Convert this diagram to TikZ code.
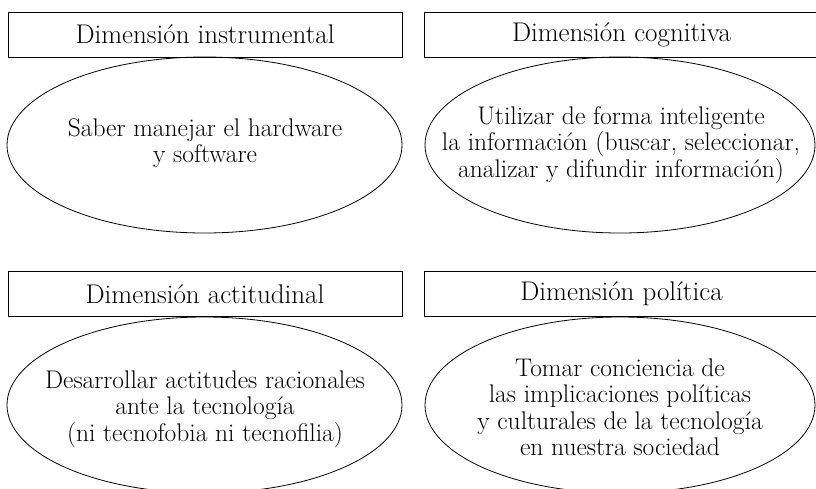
\documentclass[tikz,border=0pt]{standalone}
\usetikzlibrary{shapes.geometric}
\begin{document}
\begin{tikzpicture}[x=1pt,y=-1pt]
          \tikzstyle{every node}=[font=\fontsize{25.5}{26.5}\selectfont,align=center];
          \tikzstyle{caja}=[draw,line width=0.8pt,rectangle,minimum width=394pt,minimum height=45pt,font=\fontsize{27}{27}\selectfont];
          \tikzstyle{elipse}=[draw,line width=0.8pt,ellipse,minimum width=395pt,minimum height=176pt,inner sep=0pt];
          \useasboundingbox (0,0) rectangle (816,488);
          %titulos
          \node[caja] (inst) at (205,34.5) {Dimensión instrumental};
          \node[caja] (cogn) at (621.5,34.5) {Dimensión cognitiva};
          \node[caja] (acti) at (205,294) {Dimensión actitudinal};
          \node[caja] (poli) at (621.5,294) {Dimensión política};
          %elipses
          \node[elipse] (instE) at (204.5,145) {};
          \node[elipse,minimum width=390pt] (cognE) at (620,145) {};
          \node[elipse] (actiE) at (204.5,405) {};
          \node[elipse,minimum width=390pt] (poliE) at (620,405) {};
          %textos
          \node (instT) at (205,143) {Saber manejar el hardware\\y software};
          \node (cognT) at (621,145) {Utilizar de forma inteligente\\la información (buscar, seleccionar,\\analizar y difundir información)};
          \node (actiT) at (205,409) {Desarrollar actitudes racionales\\ante la tecnología\\(ni tecnofobia ni tecnofilia)};
          \node (poliT) at (620,407) {Tomar conciencia de\\las implicaciones políticas\\y culturales de la tecnología\\en nuestra sociedad};
      \end{tikzpicture}
\end{document}
